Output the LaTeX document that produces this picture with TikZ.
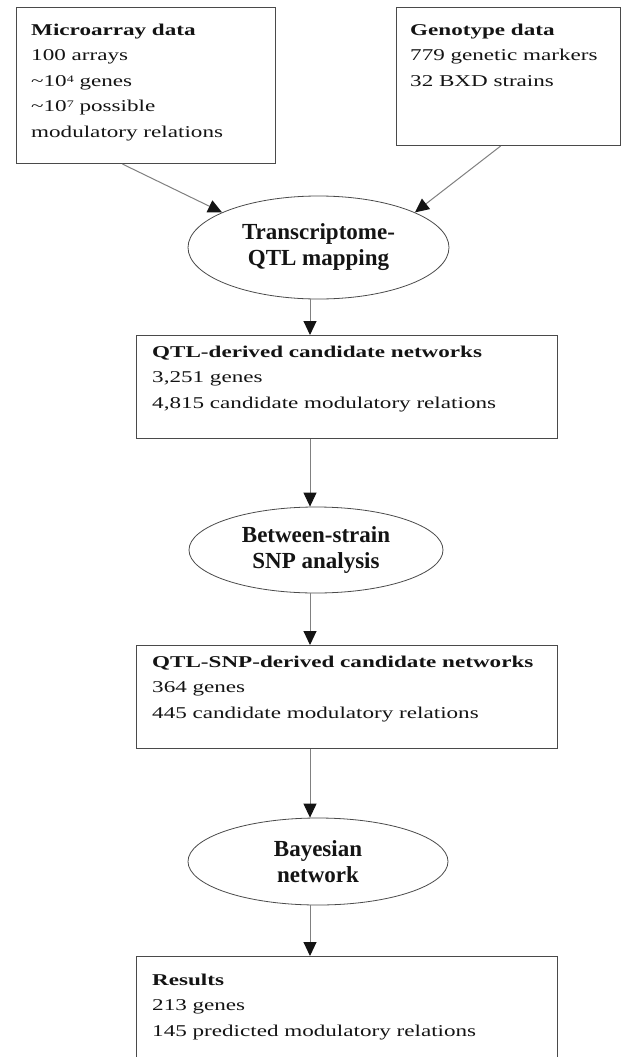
\documentclass[tikz,border=0pt]{standalone}
\usepackage{fontspec}
\setmainfont{Liberation Serif}
% wide face for the text inside the rectangular panels
\newfontfamily\widefont{Liberation Serif}[FakeStretch=1.40]
\usetikzlibrary{arrows.meta,shapes.geometric,calc}

% small raised exponent
\newcommand\expo[1]{\raisebox{4pt}{\fontsize{10}{10}\selectfont #1}}

\definecolor{ink}{HTML}{141414}
\definecolor{frame}{HTML}{4A4A4A}
\definecolor{wire}{HTML}{808080}

\tikzset{
  panel/.style={draw=frame, line width=1.1pt, rectangle, inner sep=0pt, anchor=north west},
  paneltext/.style={anchor=north west, inner sep=0pt, align=left, text=ink,
    font=\widefont\fontsize{16.5}{25.5}\selectfont},
  stage/.style={draw=frame, line width=0.8pt, ellipse, inner sep=0pt, align=center, text=ink,
    font=\bfseries\fontsize{23}{26}\selectfont},
  flow/.style={draw=wire, line width=1pt, -{Triangle[width=13pt,length=14pt,color=ink]}},
}

\begin{document}
\begin{tikzpicture}[x=1pt,y=-1pt]
\fill[white] (0,0) rectangle (621,1057);
\clip (0,0) rectangle (621,1057);

% input panels
\node[panel, minimum width=259pt, minimum height=156pt] (mb) at (16,7) {};
\node[paneltext] (mbt) at ([shift={(15,10.15)}]mb.north west)
  {\strut\textbf{Microarray data}\\100 arrays\\\textasciitilde10\expo{4} genes\\\textasciitilde10\expo{7} possible\\modulatory relations};

\node[panel, minimum width=224pt, minimum height=138pt] (gb) at (396,7) {};
\node[paneltext] (gbt) at ([shift={(14,10.15)}]gb.north west)
  {\strut\textbf{Genotype data}\\779 genetic markers\\32 BXD strains};

% processing stages
\node[stage, minimum width=261pt, minimum height=103pt] (e1) at (318.5,247.5)
  {Transcriptome-\\QTL mapping};
\node[stage, minimum width=254pt, minimum height=86pt] (e2) at (316,550)
  {Between-strain\\SNP analysis};
\node[stage, minimum width=260pt, minimum height=87pt] (e3) at (318,861.5)
  {Bayesian\\network};

% intermediate and final panels
\node[panel, minimum width=421pt, minimum height=103pt] (qb) at (136,335) {};
\node[paneltext] (qbt) at ([shift={(16,4.15)}]qb.north west)
  {\strut\textbf{QTL-derived candidate networks}\\3,251 genes\\4,815 candidate modulatory relations};

\node[panel, minimum width=421pt, minimum height=103pt] (sb) at (136,645) {};
\node[paneltext] (sbt) at ([shift={(16,4.15)}]sb.north west)
  {\strut\textbf{QTL-SNP-derived candidate networks}\\364 genes\\445 candidate modulatory relations};

\node[panel, minimum width=421pt, minimum height=140pt] (rb) at (136,956) {};
\node[paneltext] (rbt) at ([shift={(16,11.15)}]rb.north west)
  {\strut\textbf{Results}\\213 genes\\145 predicted modulatory relations};

% connectors
\coordinate (axis) at (310,0);
\draw[flow] ([xshift=-23.5pt]mb.south) -- (e1.160);
\draw[flow] ([xshift=-8pt]gb.south) -- (e1.20);
\draw[flow] (e1.south -| axis) -- (qb.north -| axis);
\draw[flow] (qb.south -| axis) -- (e2.north -| axis);
\draw[flow] (e2.south -| axis) -- (sb.north -| axis);
\draw[flow] (sb.south -| axis) -- (e3.north -| axis);
\draw[flow] (e3.south -| axis) -- (rb.north -| axis);
\end{tikzpicture}
\end{document}
